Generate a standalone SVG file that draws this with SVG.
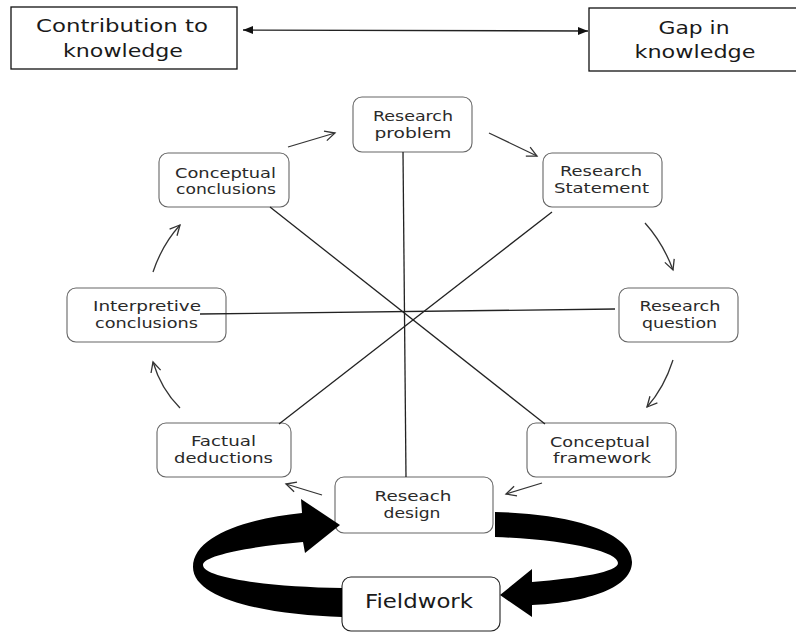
<svg xmlns="http://www.w3.org/2000/svg" width="796" height="632" viewBox="0 0 796 632">
  <style>
    .box { fill: #ffffff; stroke: #111111; stroke-width: 1.3; }
    .node { fill: #ffffff; stroke: #666666; stroke-width: 1.1; }
    .lbl { font-family: "DejaVu Sans", "Open Sans", sans-serif; font-size: 14px; fill: #2a2a2a; text-anchor: middle; }
    .big { font-family: "DejaVu Sans", "Open Sans", sans-serif; font-size: 17px; fill: #1a1a1a; text-anchor: middle; }
    .spoke { fill: none; stroke: #222222; stroke-width: 1.3; }
    .flow { fill: none; stroke: #333333; stroke-width: 1.3; marker-end: url(#open); }
    .link { fill: none; stroke: #222222; stroke-width: 1.3; marker-start: url(#solid); marker-end: url(#solid); }
    .loop { fill: #000000; stroke: none; }
  </style>
  <defs>
    <marker id="open" viewBox="-12 -7 14 14" refX="0" refY="0" markerWidth="14" markerHeight="14" markerUnits="userSpaceOnUse" orient="auto">
      <path d="M-10,-5 L0,0 L-10,5" fill="none" stroke="#333333" stroke-width="1.3"/>
    </marker>
    <marker id="solid" viewBox="-11 -5 12 10" refX="0" refY="0" markerWidth="12" markerHeight="10" markerUnits="userSpaceOnUse" orient="auto-start-reverse">
      <path d="M-10,-4 L0,0 L-10,4 Z" fill="#111111"/>
    </marker>
  </defs>

  <!-- outer boxes -->
  <g id="contribution">
    <rect class="box" x="11" y="7" width="226" height="62"/>
    <text class="big" x="122" y="32" textLength="172" lengthAdjust="spacingAndGlyphs">Contribution to</text>
    <text class="big" x="123" y="57" textLength="120" lengthAdjust="spacingAndGlyphs">knowledge</text>
  </g>
  <g id="gap">
    <rect class="box" x="589" y="8" width="212" height="63"/>
    <text class="big" x="694" y="34" textLength="71" lengthAdjust="spacingAndGlyphs">Gap in</text>
    <text class="big" x="695" y="58" textLength="121" lengthAdjust="spacingAndGlyphs">knowledge</text>
  </g>

  <!-- cycle nodes -->
  <g id="research-problem">
    <rect class="node" x="353" y="97" width="119" height="55" rx="9"/>
    <text class="lbl" x="413" y="121" textLength="80" lengthAdjust="spacingAndGlyphs">Research</text>
    <text class="lbl" x="413" y="137.5" textLength="77" lengthAdjust="spacingAndGlyphs">problem</text>
  </g>
  <g id="research-statement">
    <rect class="node" x="543" y="153" width="119" height="54" rx="9"/>
    <text class="lbl" x="601" y="176" textLength="82" lengthAdjust="spacingAndGlyphs">Research</text>
    <text class="lbl" x="601.5" y="192.5" textLength="95" lengthAdjust="spacingAndGlyphs">Statement</text>
  </g>
  <g id="conceptual-conclusions">
    <rect class="node" x="159" y="153" width="130" height="54" rx="9"/>
    <text class="lbl" x="225.5" y="177.5" textLength="101" lengthAdjust="spacingAndGlyphs">Conceptual</text>
    <text class="lbl" x="226" y="194" textLength="100" lengthAdjust="spacingAndGlyphs">conclusions</text>
  </g>
  <g id="interpretive-conclusions">
    <rect class="node" x="67" y="288" width="159" height="54" rx="9"/>
    <text class="lbl" x="147" y="311" textLength="108" lengthAdjust="spacingAndGlyphs">Interpretive</text>
    <text class="lbl" x="146.5" y="327.5" textLength="103" lengthAdjust="spacingAndGlyphs">conclusions</text>
  </g>
  <g id="research-question">
    <rect class="node" x="619" y="288" width="119" height="54" rx="9"/>
    <text class="lbl" x="680" y="311" textLength="81" lengthAdjust="spacingAndGlyphs">Research</text>
    <text class="lbl" x="679.5" y="327.5" textLength="75" lengthAdjust="spacingAndGlyphs">question</text>
  </g>
  <g id="factual-deductions">
    <rect class="node" x="157" y="423" width="134" height="54" rx="9"/>
    <text class="lbl" x="223.5" y="446" textLength="65" lengthAdjust="spacingAndGlyphs">Factual</text>
    <text class="lbl" x="223.5" y="462.5" textLength="99" lengthAdjust="spacingAndGlyphs">deductions</text>
  </g>
  <g id="conceptual-framework">
    <rect class="node" x="527" y="423" width="149" height="54" rx="9"/>
    <text class="lbl" x="600" y="446.5" textLength="100" lengthAdjust="spacingAndGlyphs">Conceptual</text>
    <text class="lbl" x="602" y="463" textLength="98" lengthAdjust="spacingAndGlyphs">framework</text>
  </g>
  <g id="research-design">
    <rect class="node" x="335" y="477" width="158" height="56" rx="9"/>
    <text class="lbl" x="413" y="501" textLength="77" lengthAdjust="spacingAndGlyphs">Reseach</text>
    <text class="lbl" x="412" y="517.5" textLength="57" lengthAdjust="spacingAndGlyphs">design</text>
  </g>
  <g id="fieldwork">
    <rect class="node" x="342" y="577" width="158" height="54" rx="9" style="stroke:#222222"/>
    <text class="lbl" x="419" y="608" style="font-size:19px;fill:#1a1a1a" textLength="108" lengthAdjust="spacingAndGlyphs">Fieldwork</text>
  </g>

  <!-- connectors -->
  <g id="connectors">
    <path class="link" d="M243,30 L588,31"/>

    <path class="spoke" d="M403,152 L406,477"/>
    <path class="spoke" d="M200,314 L615,309"/>
    <path class="spoke" d="M270,207 L545,424"/>
    <path class="spoke" d="M552,212 L279,424"/>

    <path class="flow" d="M288,147 L335,133"/>
    <path class="flow" d="M489,133 L537,156"/>
    <path class="flow" d="M645,223 Q663,243 673,270"/>
    <path class="flow" d="M673,360 Q664,388 647,407"/>
    <path class="flow" d="M542,483 L506,494"/>
    <path class="flow" d="M322,495 L286,484"/>
    <path class="flow" d="M180,408 Q161,389 153,362"/>
    <path class="flow" d="M153,272 Q162,245 180,225"/>

    <path class="loop" d="M342,617 C270,615 193,600 193,567 C193,535 250,518 302,513 L301,499 L340,525 L305,553 L303,542 C255,546 203,555 203,565 C203,578 270,587 342,588 Z"/>
    <path class="loop" d="M495,512 C580,514 632,535 632,562 C632,590 580,603 532,605 L532,617 L500,595 L532,569 L532,582 C580,578 618,572 618,563 C618,552 570,540 495,537 Z"/>
  </g>
</svg>
